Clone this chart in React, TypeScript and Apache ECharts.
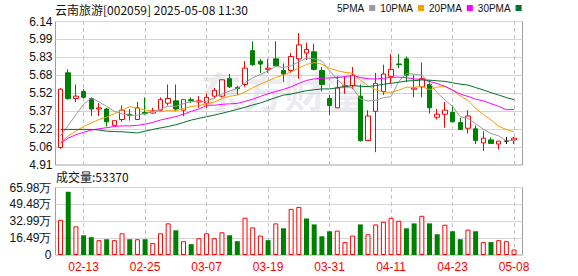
import React, { useEffect, useRef } from "react";
import * as echarts from "echarts";

const dates = ["02-10","02-11","02-12","02-13","02-14","02-17","02-18","02-19","02-20","02-21","02-24","02-25","02-26","02-27","02-28","03-03","03-04","03-05","03-06","03-07","03-10","03-11","03-12","03-13","03-14","03-17","03-18","03-19","03-20","03-21","03-24","03-25","03-26","03-27","03-28","03-31","04-01","04-02","04-03","04-07","04-08","04-09","04-10","04-11","04-14","04-15","04-16","04-17","04-18","04-21","04-22","04-23","04-24","04-25","04-28","04-29","04-30","05-06","05-07","05-08"];
const shownDates = ["02-13","02-25","03-07","03-19","03-31","04-11","04-23","05-08"];

const openP = [5.06,5.70,5.48,5.54,5.48,5.39,5.39,5.25,5.30,5.345,5.30,5.36,5.355,5.38,5.44,5.46,5.38,5.47,5.45,5.44,5.50,5.50,5.65,5.575,5.60,5.89,5.80,5.73,5.82,5.72,5.72,5.82,5.87,5.88,5.72,5.48,5.40,5.58,5.59,5.50,5.12,5.37,5.54,5.67,5.776,5.82,5.56,5.58,5.60,5.32,5.345,5.36,5.275,5.225,5.22,5.10,5.125,5.09,5.115,5.125];
const closeP = [5.56,5.48,5.50,5.49,5.39,5.40,5.28,5.29,5.38,5.335,5.40,5.35,5.375,5.47,5.48,5.39,5.47,5.46,5.46,5.49,5.55,5.64,5.58,5.565,5.74,5.77,5.775,5.74,5.76,5.69,5.84,5.94,5.90,5.73,5.60,5.42,5.57,5.59,5.68,5.12,5.33,5.61,5.69,5.73,5.77,5.68,5.57,5.65,5.40,5.345,5.38,5.28,5.215,5.33,5.12,5.14,5.095,5.115,5.115,5.14];
const lowP = [5.05,5.47,5.45,5.48,5.33,5.33,5.24,5.24,5.28,5.29,5.30,5.34,5.35,5.375,5.42,5.37,5.33,5.44,5.40,5.40,5.48,5.49,5.57,5.51,5.58,5.76,5.70,5.70,5.755,5.62,5.70,5.65,5.81,5.72,5.54,5.34,5.40,5.52,5.56,5.11,5.12,5.02,5.51,5.61,5.74,5.62,5.49,5.49,5.35,5.30,5.23,5.28,5.21,5.18,5.09,5.03,5.095,5.045,5.09,5.09];
const highP = [5.57,5.73,5.60,5.56,5.49,5.44,5.40,5.29,5.42,5.39,5.45,5.49,5.40,5.49,5.60,5.60,5.47,5.49,5.50,5.52,5.57,5.645,5.69,5.59,5.80,5.97,5.82,5.82,5.97,5.78,5.87,6.04,5.96,5.95,5.75,5.51,5.67,5.67,5.75,5.60,5.38,5.70,5.77,5.86,5.86,5.84,5.68,5.79,5.64,5.39,5.45,5.42,5.315,5.38,5.25,5.20,5.145,5.115,5.15,5.15];
const volume = [344000,618000,280000,193000,174000,145000,154000,145000,212000,154000,154000,154000,116000,212000,309000,241000,135000,106000,164000,212000,164000,222000,193000,135000,364000,270000,190000,145000,309000,261000,451000,470000,357000,299000,183000,232000,238000,126000,190000,299000,203000,299000,325000,364000,335000,261000,309000,383000,309000,203000,296000,232000,154000,248000,232000,126000,126000,145000,135000,53370];

const ma5 = [5.16,5.25,5.34,5.43,5.484,5.452,5.412,5.37,5.348,5.337,5.337,5.351,5.368,5.386,5.415,5.413,5.437,5.454,5.452,5.454,5.486,5.52,5.544,5.565,5.615,5.659,5.685,5.717,5.756,5.746,5.76,5.794,5.826,5.82,5.802,5.718,5.644,5.582,5.572,5.476,5.458,5.466,5.486,5.496,5.626,5.696,5.688,5.68,5.614,5.529,5.469,5.411,5.324,5.31,5.265,5.217,5.18,5.16,5.117,5.121];
const ma10 = [5.10,5.16,5.20,5.24,5.27,5.30,5.32,5.35,5.38,5.411,5.395,5.382,5.369,5.367,5.376,5.375,5.394,5.411,5.419,5.435,5.45,5.479,5.499,5.509,5.535,5.573,5.603,5.631,5.661,5.681,5.71,5.74,5.772,5.788,5.774,5.739,5.719,5.704,5.696,5.639,5.588,5.555,5.534,5.534,5.551,5.577,5.577,5.583,5.555,5.578,5.583,5.55,5.502,5.462,5.397,5.343,5.296,5.242,5.214,5.193];
const ma20 = [5.10,5.14,5.17,5.19,5.21,5.22,5.23,5.24,5.245,5.245,5.25,5.26,5.275,5.295,5.31,5.325,5.345,5.37,5.39,5.422,5.422,5.43,5.434,5.438,5.455,5.474,5.498,5.521,5.54,5.558,5.58,5.609,5.635,5.648,5.654,5.656,5.661,5.667,5.678,5.66,5.649,5.647,5.653,5.661,5.663,5.658,5.648,5.644,5.626,5.608,5.585,5.552,5.518,5.498,5.474,5.46,5.436,5.413,5.384,5.385];
const ma30 = [5.215,5.215,5.215,5.215,5.215,5.21,5.20,5.196,5.195,5.19,5.185,5.20,5.215,5.228,5.24,5.255,5.275,5.295,5.31,5.324,5.338,5.353,5.37,5.387,5.405,5.424,5.442,5.465,5.488,5.509,5.518,5.533,5.547,5.555,5.562,5.562,5.572,5.582,5.592,5.585,5.582,5.591,5.602,5.61,5.62,5.63,5.633,5.639,5.637,5.632,5.627,5.615,5.603,5.595,5.574,5.553,5.531,5.51,5.488,5.47];

const priceMin = 4.91;
const priceMax = 6.14;
const priceStep = 0.15375;
const priceLabels = ["4.91","5.06","5.22","5.37","5.52","5.68","5.83","5.99","6.14"];
const volMax = 659800;
const volStep = 164950;
const volLabels = ["0","16.49万","32.99万","49.48万","65.98万"];

const maNames = ["5PMA","10PMA","20PMA","30PMA"];
const maColors = ["#9a9a9a","#f5a000","#ff00ff","#00702c"];
const maData = [ma5, ma10, ma20, ma30];

const UP = "#ff0000";
const DOWN = "#008000";
const FONT = "'Liberation Sans', Arial, sans-serif";

export default function App() {
  const ref = useRef<HTMLDivElement>(null);
  useEffect(() => {
    const chart = echarts.init(ref.current!, null, { renderer: "svg" });
    const candleData = dates.map((d, i) => {
      const item: any = { value: [openP[i], closeP[i], lowP[i], highP[i]] };
      if (openP[i] === closeP[i]) {
        item.itemStyle = { color: "#000", color0: "#000", borderColor: "#000", borderColor0: "#000" };
      }
      return item;
    });
    const volData = volume.map((v, i) => {
      const up = i === 0 ? closeP[0] >= openP[0] : closeP[i] >= closeP[i - 1];
      return {
        value: v,
        itemStyle: up
          ? { color: "#ffffff", borderColor: UP, borderWidth: 1 }
          : { color: DOWN, borderColor: DOWN, borderWidth: 0 },
      };
    });
    const vLines = {
      silent: true,
      symbol: "none",
      z: 1,
      label: { show: false },
      lineStyle: { color: "#c4c4c4", type: [4, 3], width: 1 },
      data: shownDates.map((d) => ({ xAxis: d })),
      animation: false,
    };
    const option: any = {
      animation: false,
      backgroundColor: "#ffffff",
      grid: [
        { left: 55.5, top: 21.5, width: 467, height: 143.5, show: true, borderColor: "#a0a0a0", borderWidth: 1, backgroundColor: "transparent" },
        { left: 56.7, top: 21.5, width: 461.2, height: 143.5 },
        { left: 55.5, top: 187.5, width: 467, height: 67.5, show: true, borderColor: "#a0a0a0", borderWidth: 1, backgroundColor: "transparent" },
        { left: 56.7, top: 187.5, width: 461.2, height: 67.5 },
      ],
      xAxis: [
        { type: "value", gridIndex: 0, min: 0, max: 1, show: false },
        { type: "category", gridIndex: 1, data: dates, boundaryGap: true, show: false },
        { type: "value", gridIndex: 2, min: 0, max: 1, show: false },
        {
          type: "category", gridIndex: 3, data: dates, boundaryGap: true,
          axisLine: { show: false }, axisTick: { show: false }, splitLine: { show: false },
          axisLabel: {
            interval: (_i: number, v: string) => shownDates.includes(v),
            color: "#ff0000", fontSize: 12, fontFamily: FONT, margin: 6,
          },
        },
      ],
      yAxis: [
        {
          type: "value", gridIndex: 0, min: priceMin, max: priceMax, interval: priceStep,
          axisLine: { show: false }, axisTick: { show: false },
          splitLine: { show: true, lineStyle: { color: "#d4d4d4", width: 1 } },
          axisLabel: {
            margin: 3, color: "#111", fontSize: 12, fontFamily: FONT,
            formatter: (v: number) => priceLabels[Math.round((v - priceMin) / priceStep)] ?? "",
          },
        },
        { type: "value", gridIndex: 1, min: priceMin, max: priceMax, show: false },
        {
          type: "value", gridIndex: 2, min: 0, max: volMax, interval: volStep,
          axisLine: { show: false }, axisTick: { show: false },
          splitLine: { show: true, lineStyle: { color: "#d4d4d4", width: 1 } },
          axisLabel: {
            margin: 4, color: "#111", fontSize: 12, fontFamily: FONT,
            formatter: (v: number) => volLabels[Math.round(v / volStep)] ?? "",
          },
        },
        { type: "value", gridIndex: 3, min: 0, max: volMax, show: false },
      ],
      legend: {
        data: maNames,
        left: 337,
        top: 3,
        itemWidth: 6,
        itemHeight: 6,
        itemGap: 5,
        icon: "rect",
        align: "right",
        padding: 0,
        textStyle: { fontSize: 10, color: "#111", fontFamily: FONT },
        selectedMode: false,
      },
      graphic: [
        {
          type: "text", x: 200, y: 68, z: 0, silent: true,
          style: { text: "东方财富", fontSize: 42, fontWeight: "bold", fontFamily: "'Noto Sans CJK SC', sans-serif", fill: "rgba(190,190,205,0.28)", textVerticalAlign: "top", verticalAlign: "top" },
        },
        {
          type: "text", x: 55, y: 3,
          style: { text: "云南旅游[002059] 2025-05-08 11:30", fontSize: 12, fontFamily: "'Noto Sans CJK SC', sans-serif", fill: "#111", textVerticalAlign: "top", verticalAlign: "top" },
        },
        {
          type: "text", x: 56, y: 170,
          style: { text: "成交量:53370", fontSize: 12, fontFamily: "'Noto Sans CJK SC', sans-serif", fill: "#111", textVerticalAlign: "top", verticalAlign: "top" },
        },
      ],
      series: [
        {
          type: "candlestick", name: "K", xAxisIndex: 1, yAxisIndex: 1, z: 2,
          barWidth: 5,
          data: candleData,
          itemStyle: { color: "#ffffff", color0: DOWN, borderColor: UP, borderColor0: DOWN, borderColorDoji: "#000", borderWidth: 1 },
          markLine: vLines,
        },
        ...maNames.map((n, k) => ({
          type: "line", name: n, xAxisIndex: 1, yAxisIndex: 1, z: 3,
          data: maData[k], symbol: "none", showSymbol: false,
          lineStyle: { color: maColors[k], width: 1 },
          itemStyle: { color: maColors[k] },
        })),
        {
          type: "bar", name: "VOL", xAxisIndex: 3, yAxisIndex: 3, z: 2,
          barWidth: 5, data: volData,
          markLine: vLines,
        },
      ],
    };
    chart.setOption(option);
    return () => chart.dispose();
  }, []);
  return <div ref={ref} style={{ position: "fixed", left: 0, top: 0, width: 578, height: 276 }} />;
}
